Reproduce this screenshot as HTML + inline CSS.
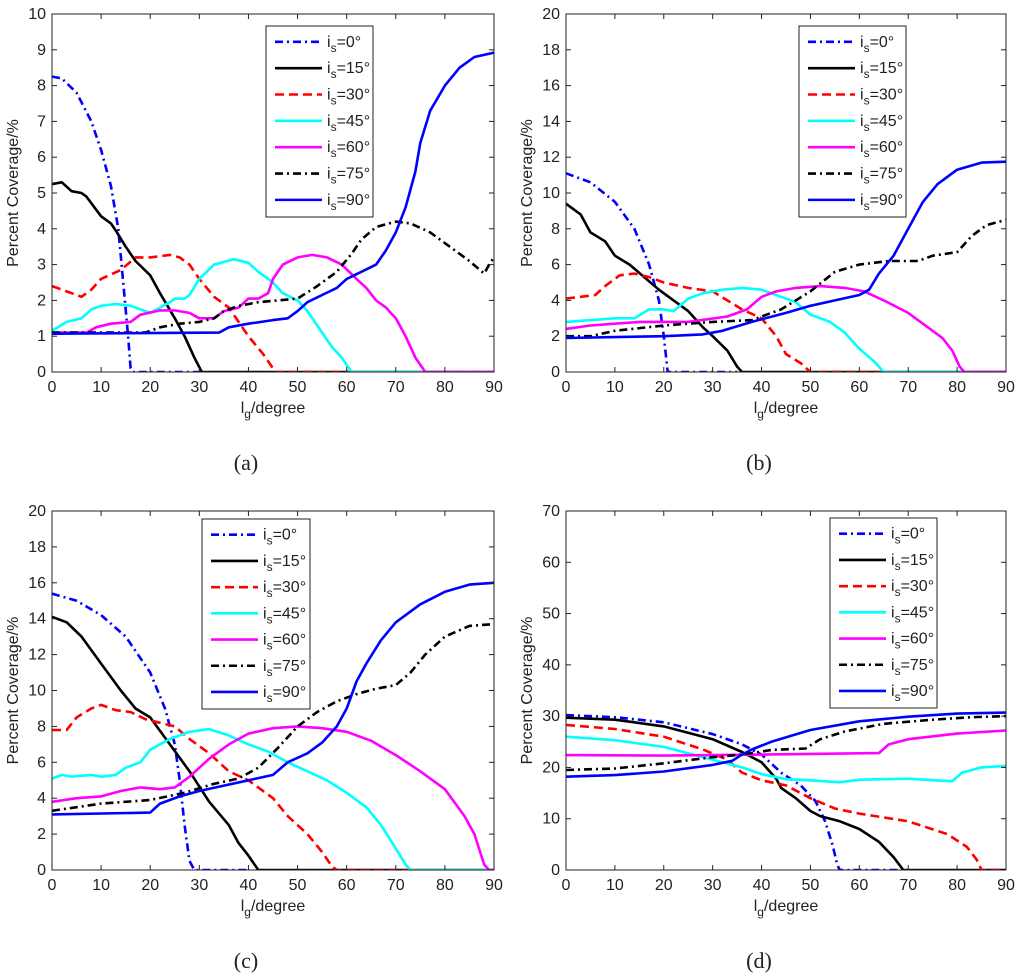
<!DOCTYPE html>
<html><head><meta charset="utf-8"><style>
body{margin:0;background:#fff}
svg{display:block}
text{font-family:"Liberation Sans",sans-serif;fill:#222}
</style></head><body>
<svg id="fig" width="1024" height="977" viewBox="0 0 1024 977" xmlns="http://www.w3.org/2000/svg"></svg>
<script>
const xTicks=[0,10,20,30,40,50,60,70,80,90];
const seriesNames=["0","15","30","45","60","75","90"];
// panel (a)
const a0=[[0,8.25],[2,8.2],[5,7.8],[8,7.0],[10,6.2],[12,5.2],[13.5,4],[14.5,2.5],[15.5,1],[16,0.1],[16.5,0],[30,0]];
const a15=[[0,5.25],[2,5.3],[4,5.05],[6,5.0],[7,4.9],[10,4.35],[12,4.15],[13,3.95],[15,3.5],[17,3.1],[20,2.7],[22,2.2],[25,1.5],[27,1.0],[29,0.4],[30.5,0],[90,0]];
const a30=[[0,2.4],[3,2.25],[6,2.1],[8,2.3],[10,2.6],[14,2.85],[17,3.2],[20,3.2],[24,3.27],[26,3.2],[28,3.0],[30,2.6],[33,2.1],[36,1.8],[38,1.4],[40,1.0],[43,0.5],[45,0.1],[45.5,0],[90,0]];
const a45=[[0,1.15],[3,1.4],[6,1.5],[8,1.75],[10,1.85],[13,1.9],[16,1.85],[20,1.65],[22,1.8],[24,1.95],[25,2.05],[27,2.05],[28,2.15],[30,2.6],[33,3.0],[37,3.15],[40,3.05],[42,2.8],[43,2.7],[45,2.5],[47,2.2],[50,2.0],[52,1.7],[55,1.1],[57,0.7],[59,0.4],[61,0],[90,0]];
const a60=[[0,1.1],[7,1.1],[9,1.25],[12,1.35],[16,1.4],[18,1.6],[22,1.72],[25,1.72],[28,1.65],[30,1.5],[33,1.5],[35,1.7],[38,1.8],[40,2.05],[42,2.05],[44,2.2],[45,2.6],[47,3.0],[50,3.2],[53,3.27],[56,3.2],[59,3.0],[62,2.6],[64,2.35],[66,2.0],[68,1.8],[70,1.5],[72,1.0],[74,0.4],[75.5,0.1],[76,0],[90,0]];
const a75=[[0,1.1],[19,1.1],[22,1.25],[26,1.35],[30,1.4],[33,1.5],[35,1.7],[38,1.85],[42,1.95],[46,2.0],[50,2.05],[54,2.4],[58,2.8],[61,3.3],[63,3.7],[66,4.05],[70,4.2],[73,4.15],[77,3.9],[81,3.5],[85,3.1],[88,2.75],[89,3.0],[90,3.2]];
const a90=[[0,1.07],[34,1.1],[36,1.25],[40,1.35],[45,1.45],[48,1.5],[50,1.7],[52,1.95],[55,2.15],[58,2.35],[60,2.6],[63,2.8],[66,3.0],[68,3.4],[70,3.9],[72,4.6],[74,5.6],[75,6.4],[77,7.3],[80,8.0],[83,8.5],[86,8.8],[90,8.92]];
// panel (b)
const b0=[[0,11.1],[5,10.6],[10,9.5],[14,8],[17,6],[19,4],[20,2],[20.8,0],[35,0]];
const b15=[[0,9.4],[3,8.8],[5,7.8],[8,7.3],[10,6.5],[13,6.0],[16,5.3],[19,4.6],[22,4.0],[25,3.4],[28,2.5],[30,2.0],[33,1.2],[35,0.3],[36,0],[90,0]];
const b30=[[0,4.1],[3,4.2],[6,4.3],[8,4.8],[11,5.4],[14,5.5],[17,5.3],[20,5.0],[25,4.7],[30,4.5],[33,4.0],[36,3.5],[40,3.0],[43,2.0],[45,1.0],[48,0.5],[50,0],[90,0]];
const b45=[[0,2.8],[10,3.0],[14,3.0],[17,3.5],[20,3.5],[22,3.4],[25,4.1],[28,4.4],[32,4.6],[36,4.7],[40,4.6],[44,4.2],[47,3.9],[50,3.2],[54,2.8],[57,2.2],[60,1.3],[63,0.6],[65,0],[90,0]];
const b60=[[0,2.4],[5,2.6],[10,2.7],[15,2.8],[25,2.8],[33,3.1],[37,3.5],[40,4.2],[43,4.5],[47,4.7],[52,4.8],[57,4.7],[61,4.5],[65,4.0],[70,3.3],[74,2.5],[77,1.9],[79,1.2],[80.5,0.3],[81.5,0],[90,0]];
const b75=[[0,2.0],[5,2.0],[10,2.3],[20,2.6],[30,2.8],[38,2.9],[44,3.5],[50,4.5],[55,5.6],[60,6.0],[66,6.2],[72,6.2],[75,6.5],[80,6.7],[83,7.6],[86,8.2],[90,8.5]];
const b90=[[0,1.9],[10,1.95],[20,2.0],[28,2.1],[32,2.3],[38,2.8],[45,3.3],[50,3.7],[55,4.0],[60,4.3],[62,4.6],[64,5.5],[67,6.5],[70,8.0],[73,9.5],[76,10.5],[80,11.3],[85,11.7],[90,11.75]];
// panel (c)
const c0=[[0,15.4],[5,15.0],[10,14.2],[15,13.0],[20,11.0],[23,9],[25,7],[26,5],[27,2.5],[28,0.5],[29,0],[40,0]];
const c15=[[0,14.1],[3,13.8],[6,13.0],[10,11.5],[14,10.0],[17,9.0],[20,8.5],[24,7.0],[28,5.5],[32,3.8],[36,2.5],[38,1.5],[40,0.8],[42,0],[90,0]];
const c30=[[0,7.8],[3,7.8],[5,8.5],[8,9.0],[10,9.2],[13,8.9],[16,8.8],[19,8.4],[22,8.2],[25,8.0],[28,7.3],[32,6.5],[36,5.5],[40,5.0],[45,4.0],[48,3.0],[52,2.0],[55,1.0],[57,0.2],[58,0],[90,0]];
const c45=[[0,5.1],[2,5.3],[4,5.2],[8,5.3],[10,5.2],[13,5.3],[15,5.7],[18,6.0],[20,6.7],[24,7.3],[28,7.7],[32,7.85],[36,7.5],[40,7.0],[44,6.6],[48,6.0],[52,5.5],[56,5.0],[60,4.3],[64,3.5],[67,2.5],[70,1.2],[72,0.3],[73,0],[90,0]];
const c60=[[0,3.8],[5,4.0],[10,4.1],[14,4.4],[18,4.6],[22,4.5],[25,4.6],[28,5.2],[32,6.2],[36,7.0],[40,7.6],[45,7.9],[50,8.0],[55,7.9],[60,7.7],[65,7.2],[70,6.4],[75,5.5],[80,4.5],[84,3.0],[86,2.0],[88,0.3],[89,0],[90,0]];
const c75=[[0,3.3],[10,3.7],[20,3.9],[27,4.3],[33,4.8],[38,5.1],[42,5.7],[46,6.8],[50,8.0],[54,8.8],[58,9.4],[62,9.8],[66,10.1],[70,10.3],[73,11.0],[76,12.0],[80,13.0],[85,13.6],[90,13.7]];
const c90=[[0,3.1],[20,3.2],[22,3.7],[26,4.1],[30,4.4],[35,4.7],[40,5.0],[45,5.3],[48,6.0],[52,6.5],[55,7.1],[58,8.0],[60,9.0],[62,10.5],[64,11.5],[67,12.8],[70,13.8],[75,14.8],[80,15.5],[85,15.9],[90,16.0]];
// panel (d)
const d0=[[0,30.2],[10,29.8],[20,28.8],[30,26.5],[36,24.5],[40,22.5],[44,19],[48,16.5],[51,13.5],[53,9.5],[54.5,5],[55.5,1],[56,0],[70,0]];
const d15=[[0,29.7],[10,29.3],[20,28],[30,25.5],[36,23],[40,21],[43,17.8],[44,16],[47,14],[50,11.5],[52,10.5],[56,9.5],[60,8],[64,5.5],[67,2.5],[69,0],[90,0]];
const d30=[[0,28.3],[10,27.5],[20,26],[28,23.5],[33,21.5],[36,19],[40,17.5],[45,16.5],[50,14],[55,12],[60,11],[70,9.5],[78,7],[82,4.5],[84,2],[85,0],[90,0]];
const d45=[[0,26],[10,25.3],[20,24],[30,21.5],[36,20],[40,18.7],[45,17.7],[50,17.5],[56,17.1],[60,17.6],[70,17.8],[79,17.3],[81,19],[85,20],[90,20.3]];
const d60=[[0,22.4],[20,22.3],[40,22.5],[64,22.8],[66,24.5],[70,25.5],[80,26.6],[90,27.2]];
const d75=[[0,19.5],[10,19.8],[20,20.8],[30,22],[36,22.5],[42,23.4],[49,23.7],[52,25.5],[57,27],[65,28.5],[75,29.3],[83,29.8],[90,30]];
const d90=[[0,18.2],[10,18.5],[20,19.2],[30,20.5],[34,21.3],[36,22.5],[38,23.5],[42,25],[50,27.3],[60,29],[70,29.9],[80,30.5],[90,30.7]];

const styles=[{c:"#0000ff",d:"8,4,2,4"},{c:"#000",d:""},{c:"#ff0000",d:"9,5"},{c:"#00ffff",d:""},{c:"#ff00ff",d:""},{c:"#000",d:"8,4,2,4"},{c:"#0000ff",d:""}];
const NS="http://www.w3.org/2000/svg";
const svg=document.getElementById('fig');
function mk(tag,attrs,parent){const e=document.createElementNS(NS,tag);for(const k in attrs)e.setAttribute(k,attrs[k]);(parent||svg).appendChild(e);return e;}

const panels=[
 {id:"a",L:52,R:494,T:14,B:372,ymax:10,ystep:1,data:[a0,a15,a30,a45,a60,a75,a90],lg:[266,26,373,217]},
 {id:"b",L:566,R:1006,T:14,B:372,ymax:20,ystep:2,data:[b0,b15,b30,b45,b60,b75,b90],lg:[799,26,906,217]},
 {id:"c",L:52,R:494,T:511,B:870,ymax:20,ystep:2,data:[c0,c15,c30,c45,c60,c75,c90],lg:[202,519,310,709]},
 {id:"d",L:566,R:1006,T:511,B:870,ymax:70,ystep:10,data:[d0,d15,d30,d45,d60,d75,d90],lg:[830,518,937,708]}
];
panels.forEach(p=>{
 const g=mk('g',{});
 
 
 const xs=v=>p.L+(p.R-p.L)*v/90;
 const ys=v=>p.B-(p.B-p.T)*v/p.ymax;
 const cl=mk('clipPath',{id:'clip'+p.id},g);
 mk('rect',{x:p.L,y:p.T,width:p.R-p.L,height:p.B-p.T},cl);
 p.data.forEach((s,i)=>{
  const pl=mk('polyline',{points:s.map(q=>xs(q[0]).toFixed(1)+','+ys(q[1]).toFixed(1)).join(' '),fill:'none',stroke:styles[i].c,'stroke-width':2.6,'stroke-dasharray':styles[i].d,'stroke-linejoin':'round','clip-path':'url(#clip'+p.id+')'},g);
  
  
 });
 const box=mk('rect',{x:p.L,y:p.T,width:p.R-p.L,height:p.B-p.T,fill:'none',stroke:'#222','stroke-width':1},g);
 
 
 xTicks.forEach(t=>{
  const x=xs(t);
  mk('line',{x1:x,x2:x,y1:p.B,y2:p.B-5,stroke:'#222'},g);
  mk('line',{x1:x,x2:x,y1:p.T,y2:p.T+5,stroke:'#222'},g);
  const tx=mk('text',{x:x,y:p.B+20,'text-anchor':'middle','font-size':16},g);
  tx.textContent=t;
  
  
 });
 for(let v=0;v<=p.ymax+1e-9;v+=p.ystep){
  const y=ys(v);
  mk('line',{x1:p.L,x2:p.L+5,y1:y,y2:y,stroke:'#222'},g);
  mk('line',{x1:p.R,x2:p.R-5,y1:y,y2:y,stroke:'#222'},g);
  const ty=mk('text',{x:p.L-6,y:y+5,'text-anchor':'end','font-size':16},g);
  ty.textContent=v;
  
  
 }
 const xl=mk('text',{x:(p.L+p.R)/2,y:p.B+41,'text-anchor':'middle','font-size':16},g);
 xl.innerHTML='l<tspan dy="5" font-size="12">g</tspan><tspan dy="-5">/degree</tspan>';
 
 
 const yl=mk('text',{x:0,y:0,'text-anchor':'middle','font-size':16,transform:`translate(${p.L-34},${(p.T+p.B)/2}) rotate(-90)`},g);
 yl.textContent='Percent Coverage/%';
 
 
 const pt=mk('text',{x:(p.L+p.R)/2-27,y:p.B+98,'text-anchor':'middle','font-size':22,style:'font-family:"Liberation Serif",serif'},g);
 pt.textContent='('+p.id+')';
 
 
 const [lx1,ly1,lx2,ly2]=p.lg;
 const lg=mk('g',{},g);
 
 
 mk('rect',{x:lx1,y:ly1,width:lx2-lx1,height:ly2-ly1,fill:'#fff',stroke:'#222','stroke-width':1},lg);
 const step=(ly2-ly1)/7.25;
 seriesNames.forEach((n,i)=>{
  const y=ly1+step*(0.6+i);
  const e=mk('g',{},lg);
  
  
  mk('line',{x1:lx1+9,x2:lx1+56,y1:y,y2:y,stroke:styles[i].c,'stroke-width':2.6,'stroke-dasharray':styles[i].d},e);
  const t=mk('text',{x:lx1+61,y:y+5,'font-size':16},e);
  t.innerHTML='i<tspan dy="5" font-size="12">s</tspan><tspan dy="-5">='+n+'°</tspan>';
 });
});
</script>
</body></html>
